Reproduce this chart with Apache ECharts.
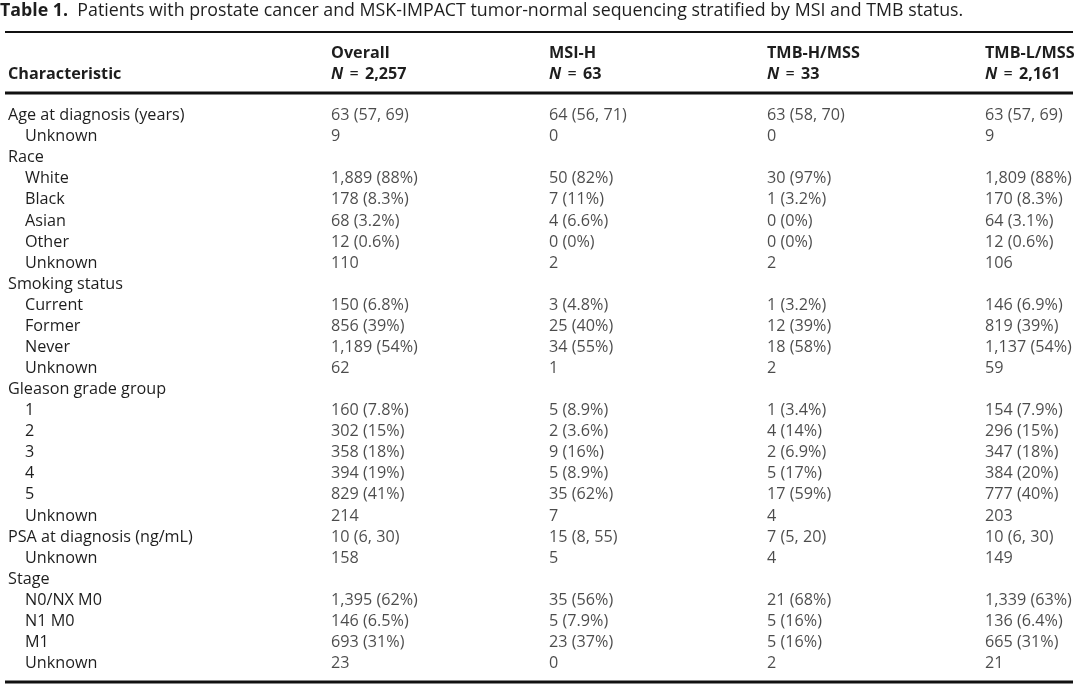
<!DOCTYPE html>
<html>
<head>
<meta charset="utf-8">
<script src="https://cdn.jsdelivr.net/npm/echarts@6/dist/echarts.min.js"></script>
<style>
html,body{margin:0;padding:0;background:#fff;}
#chart{width:1080px;height:687px;}
</style>
</head>
<body>
<div id="chart"></div>
<script>
const titleBold = 'Table 1.';
const titleText = 'Patients with prostate cancer and MSK-IMPACT tumor-normal sequencing stratified by MSI and TMB status.';
const headerLabel = 'Characteristic';
const columnNames = ['Overall', 'MSI-H', 'TMB-H/MSS', 'TMB-L/MSS'];
const columnN = ['2,257', '63', '33', '2,161'];

const rowLabels = [
  'Age at diagnosis (years)', 'Unknown',
  'Race', 'White', 'Black', 'Asian', 'Other', 'Unknown',
  'Smoking status', 'Current', 'Former', 'Never', 'Unknown',
  'Gleason grade group', '1', '2', '3', '4', '5', 'Unknown',
  'PSA at diagnosis (ng/mL)', 'Unknown',
  'Stage', 'N0/NX M0', 'N1 M0', 'M1', 'Unknown'
];
const rowIndented = [
  false, true,
  false, true, true, true, true, true,
  false, true, true, true, true,
  false, true, true, true, true, true, true,
  false, true,
  false, true, true, true, true
];

const overall = [
  '63 (57, 69)', '9',
  '', '1,889 (88%)', '178 (8.3%)', '68 (3.2%)', '12 (0.6%)', '110',
  '', '150 (6.8%)', '856 (39%)', '1,189 (54%)', '62',
  '', '160 (7.8%)', '302 (15%)', '358 (18%)', '394 (19%)', '829 (41%)', '214',
  '10 (6, 30)', '158',
  '', '1,395 (62%)', '146 (6.5%)', '693 (31%)', '23'
];
const msiH = [
  '64 (56, 71)', '0',
  '', '50 (82%)', '7 (11%)', '4 (6.6%)', '0 (0%)', '2',
  '', '3 (4.8%)', '25 (40%)', '34 (55%)', '1',
  '', '5 (8.9%)', '2 (3.6%)', '9 (16%)', '5 (8.9%)', '35 (62%)', '7',
  '15 (8, 55)', '5',
  '', '35 (56%)', '5 (7.9%)', '23 (37%)', '0'
];
const tmbHmss = [
  '63 (58, 70)', '0',
  '', '30 (97%)', '1 (3.2%)', '0 (0%)', '0 (0%)', '2',
  '', '1 (3.2%)', '12 (39%)', '18 (58%)', '2',
  '', '1 (3.4%)', '4 (14%)', '2 (6.9%)', '5 (17%)', '17 (59%)', '4',
  '7 (5, 20)', '4',
  '', '21 (68%)', '5 (16%)', '5 (16%)', '2'
];
const tmbLmss = [
  '63 (57, 69)', '9',
  '', '1,809 (88%)', '170 (8.3%)', '64 (3.1%)', '12 (0.6%)', '106',
  '', '146 (6.9%)', '819 (39%)', '1,137 (54%)', '59',
  '', '154 (7.9%)', '296 (15%)', '347 (18%)', '384 (20%)', '777 (40%)', '203',
  '10 (6, 30)', '149',
  '', '1,339 (63%)', '136 (6.4%)', '665 (31%)', '21'
];
const columns = [overall, msiH, tmbHmss, tmbLmss];

const FONT = 'Open Sans';
const TXT = '#1e1e1e';
const FS = 16.2;

const chart = echarts.init(document.getElementById('chart'), null, {renderer: 'canvas'});

const series = columns.map((col, c) => ({
  type: 'scatter',
  symbolSize: 0,
  itemStyle: {color: 'rgba(0,0,0,0)'},
  silent: true,
  animation: false,
  data: col.map((t, i) => [c, i, t]).filter(d => d[2] !== ''),
  label: {
    show: true,
    position: 'right',
    distance: 0,
    formatter: p => p.value[2],
    color: TXT,
    fontFamily: FONT,
    fontSize: FS
  }
}));

chart.setOption({
  backgroundColor: '#ffffff',
  animation: false,
  title: [
    {
      text: '{b|' + titleBold + '}  ' + titleText,
      left: 0,
      top: 2,
      padding: 0,
      textStyle: {
        fontFamily: FONT, fontSize: 17.8, fontWeight: 'normal', color: TXT,
        rich: {b: {fontFamily: FONT, fontSize: 17.8, fontWeight: 'bold', color: TXT}}
      }
    },
    {
      text: headerLabel,
      left: 8,
      top: 66,
      padding: 0,
      textStyle: {fontFamily: FONT, fontSize: FS, fontWeight: 'bold', color: TXT}
    }
  ],
  grid: {left: 331, right: 95, top: 105, bottom: 13, containLabel: false, outerBoundsMode: 'none'},
  xAxis: {
    type: 'value',
    position: 'top',
    min: 0, max: 3, interval: 1,
    axisLine: {show: false}, axisTick: {show: false}, splitLine: {show: false},
    axisLabel: {
      align: 'left',
      margin: 20,
      formatter: v => '{b|' + columnNames[v] + '}\n{n|N}{e| = }{b|' + columnN[v] + '}',
      rich: {
        b: {fontFamily: FONT, fontSize: FS, fontWeight: 'bold', color: TXT, lineHeight: 21},
        n: {fontFamily: FONT, fontSize: FS, fontWeight: 'bold', fontStyle: 'italic', color: TXT, lineHeight: 21},
        e: {fontFamily: FONT, fontSize: FS, fontWeight: 'normal', color: TXT, lineHeight: 21, padding: [0, 2, 0, 2]}
      }
    }
  },
  yAxis: {
    type: 'category',
    inverse: true,
    data: rowLabels,
    axisLine: {show: false}, axisTick: {show: false}, splitLine: {show: false},
    axisLabel: {
      interval: 0,
      align: 'left',
      margin: 323,
      color: TXT,
      fontFamily: FONT,
      fontSize: FS,
      formatter: (v, i) => rowIndented[i] ? '{s|' + v + '}' : '{t|' + v + '}',
      rich: {
        s: {fontFamily: FONT, fontSize: FS, color: TXT, padding: [0, 0, 0, 17]},
        t: {fontFamily: FONT, fontSize: FS, color: TXT}
      }
    }
  },
  graphic: [
    {type: 'line', silent: true, shape: {x1: 5, y1: 32, x2: 1073, y2: 32}, style: {stroke: '#111', lineWidth: 2}},
    {type: 'line', silent: true, shape: {x1: 5, y1: 93, x2: 1073, y2: 93}, style: {stroke: '#111', lineWidth: 3}},
    {type: 'line', silent: true, shape: {x1: 5, y1: 682, x2: 1073, y2: 682}, style: {stroke: '#111', lineWidth: 3}}
  ],
  series: series
});
</script>
</body>
</html>
